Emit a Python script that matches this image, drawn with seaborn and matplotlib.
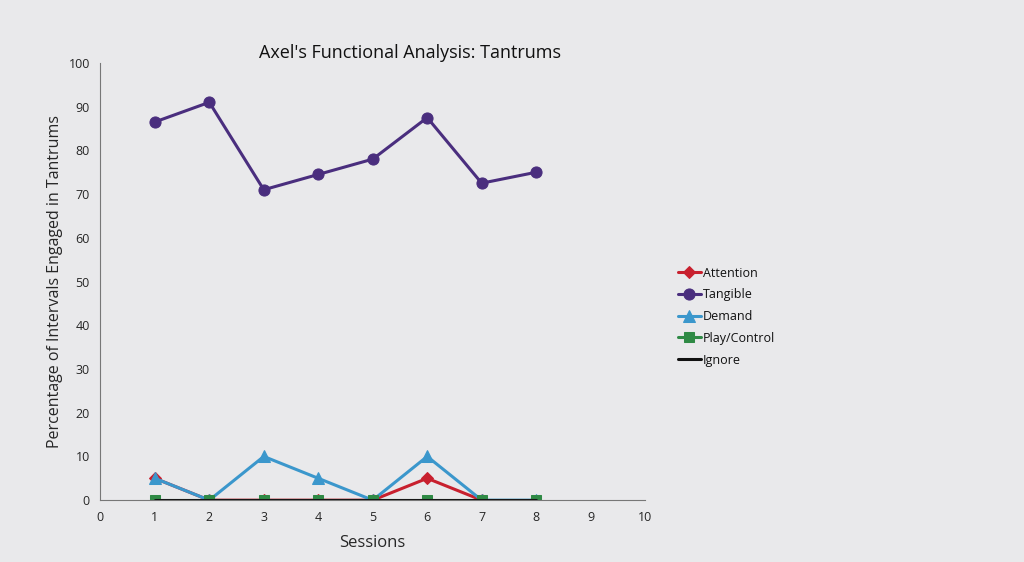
import pandas as pd
import matplotlib.pyplot as plt
import seaborn as sns

sessions = [1, 2, 3, 4, 5, 6, 7, 8]
attention = [5, 0, 0, 0, 0, 5, 0]
tangible = [86.5, 91, 71, 74.5, 78, 87.5, 72.5, 75]
demand = [5, 0, 10, 5, 0, 10, 0, 0]
play_control = [0, 0, 0, 0, 0, 0, 0, 0]
ignore = [0, 0, 0, 0, 0, 0, 0, 0]

series = [
    ("Attention", attention, "#c8202e", "D", 6),
    ("Tangible", tangible, "#4a2e7e", "o", 8),
    ("Demand", demand, "#3b97cc", "^", 8),
    ("Play/Control", play_control, "#2f8a45", "s", 7),
    ("Ignore", ignore, "#111111", None, 0),
]

sns.set_style("white")
plt.rcParams["font.family"] = ["Open Sans", "DejaVu Sans"]

fig = plt.figure(figsize=(10.24, 5.62), dpi=100)
fig.patch.set_facecolor("#e9e9eb")
ax = fig.add_axes([0.098, 0.11, 0.532, 0.778])
ax.set_facecolor("#e9e9eb")

for name, vals, color, marker, ms in series:
    df = pd.DataFrame({"Session": sessions[:len(vals)], "Value": vals})
    sns.lineplot(data=df, x="Session", y="Value", ax=ax, color=color, marker=marker,
                 markersize=ms, markeredgecolor=color, linewidth=2.2, label=name)

ax.set_xlim(0, 10)
ax.set_ylim(0, 100)
ax.set_xticks(range(0, 11))
ax.set_yticks(range(0, 101, 10))
ax.tick_params(labelsize=9, direction="out", length=4, color="#555555")
for side in ["top", "right"]:
    ax.spines[side].set_visible(False)
for side in ["left", "bottom"]:
    ax.spines[side].set_color("#777777")
ax.spines["bottom"].set_position(("data", 0))

fig.text(0.40, 0.905, "Axel's Functional Analysis: Tantrums", fontsize=13,
         ha="center", va="center", color="#111111")
ax.set_xlabel("Sessions", fontsize=12)
ax.set_ylabel("Percentage of Intervals Engaged in Tantrums", fontsize=11.5)
ax.xaxis.set_label_coords(0.5, -0.08)

ax.legend(loc="center left", bbox_to_anchor=(1.04, 0.42), frameon=False,
          fontsize=9, handlelength=1.8, handletextpad=0.2, labelspacing=0.7,
          labelcolor="#111111")

fig.savefig("out.png", dpi=100, facecolor=fig.get_facecolor())
